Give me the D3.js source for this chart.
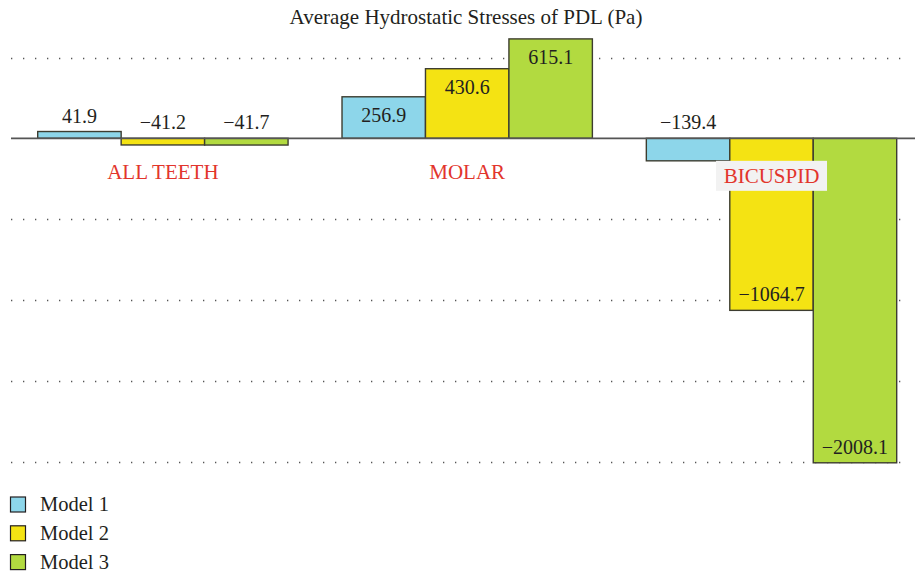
<!DOCTYPE html>
<html>
<head>
<meta charset="utf-8">
<script src="https://cdn.jsdelivr.net/npm/d3@7"></script>
<style>
  body { margin: 0; background: #fff; }
  text { font-family: "Liberation Serif", "DejaVu Serif", serif; fill: #231f20; }
</style>
</head>
<body>
<div id="graf"></div>
<script>
const categories = ["ALL TEETH", "MOLAR", "BICUSPID"]
const models = ["Model 1", "Model 2", "Model 3"]
const model1 = [41.9, 256.9, -139.4]
const model2 = [-41.2, 430.6, -1064.7]
const model3 = [-41.7, 615.1, -2008.1]
const gridTicks = [500, -500, -1000, -1500, -2000]
const title = "Average Hydrostatic Stresses of PDL (Pa)"

const draw = () => {
  const anchoTotal = 915
  const altoTotal = 573

  const colores = ["#8dd6ea", "#f4e313", "#b2da40"]
  const series = [model1, model2, model3]

  const dataset = []
  categories.forEach((c, i) => {
    models.forEach((m, j) => {
      dataset.push({ cat: c, model: m, valor: series[j][i] })
    })
  })

  // Escaladores
  const x0 = d3.scaleBand().domain(categories).range([37.7, 896.7]).paddingInner(0.1773)
  const x1 = d3.scaleBand().domain(models).range([0, x0.bandwidth()])
  const y = d3.scaleLinear().domain([-2000, 500]).range([461.5, 57.5])
  const color = d3.scaleOrdinal().domain(models).range(colores)

  const svg = d3.select("#graf")
    .append("svg")
    .attr("width", anchoTotal)
    .attr("height", altoTotal)

  // titulo
  svg.append("text")
    .attr("x", 466)
    .attr("y", 24)
    .attr("text-anchor", "middle")
    .style("font-size", "21px")
    .text(title)

  // grid punteado
  svg.append("g")
    .selectAll("line")
    .data(gridTicks)
    .join("line")
    .attr("x1", 11)
    .attr("x2", 908)
    .attr("y1", (d) => Math.round(y(d)) + 0.5)
    .attr("y2", (d) => Math.round(y(d)) + 0.5)
    .attr("stroke", "#555")
    .attr("stroke-width", 1.3)
    .attr("stroke-dasharray", "1.3 10.7")

  // barras
  const barras = svg.append("g")
  barras.selectAll("rect")
    .data(dataset)
    .join("rect")
    .attr("x", (d) => x0(d.cat) + x1(d.model))
    .attr("y", (d) => y(Math.max(0, d.valor)))
    .attr("width", x1.bandwidth())
    .attr("height", (d) => Math.abs(y(d.valor) - y(0)))
    .attr("fill", (d) => color(d.model))
    .attr("stroke", "#3d3d30")
    .attr("stroke-width", 1.4)

  // linea base
  svg.append("line")
    .attr("x1", 11)
    .attr("x2", anchoTotal)
    .attr("y1", y(0))
    .attr("y2", y(0))
    .attr("stroke", "#555")
    .attr("stroke-width", 1.8)

  // etiquetas de valores
  const fmt = (v) => (v < 0 ? "\u2212" + Math.abs(v).toFixed(1) : v.toFixed(1))
  svg.append("g")
    .selectAll("text")
    .data(dataset)
    .join("text")
    .attr("x", (d) => x0(d.cat) + x1(d.model) + x1.bandwidth() / 2)
    .attr("y", (d) => {
      const h = Math.abs(y(d.valor) - y(0))
      if (h > 30) return d.valor > 0 ? y(d.valor) + 25 : y(d.valor) - 9
      return Math.min(y(d.valor), y(0)) - 9
    })
    .attr("text-anchor", "middle")
    .style("font-size", "20px")
    .text((d) => fmt(d.valor))

  // etiquetas de categorias
  const catG = svg.append("g")
  categories.forEach((c, i) => {
    const cx = x0(c) + x0.bandwidth() / 2
    const v = model1[i]
    const cy = Math.max(171.7, v < 0 ? y(v) + 15 : 0)
    if (v < 0 && y(v) + 15 > 171.7) {
      catG.append("rect")
        .attr("x", cx - 55.5)
        .attr("y", cy - 15)
        .attr("width", 111)
        .attr("height", 30)
        .attr("fill", "#f2f2f2")
    }
    catG.append("text")
      .attr("x", cx)
      .attr("y", cy + 7)
      .attr("text-anchor", "middle")
      .style("font-size", "21px")
      .style("fill", "#e2352c")
      .text(c)
  })

  // leyenda
  const leyenda = svg.append("g")
    .selectAll("g")
    .data(models)
    .join("g")
    .attr("transform", (d, i) => `translate(10.5, ${497 + i * 28.8})`)
  leyenda.append("rect")
    .attr("width", 15)
    .attr("height", 15)
    .attr("fill", (d) => color(d))
    .attr("stroke", "#231f20")
    .attr("stroke-width", 1.2)
  leyenda.append("text")
    .attr("x", 29.5)
    .attr("y", 14)
    .style("font-size", "20.5px")
    .text((d) => d)
}

draw()
</script>
</body>
</html>
